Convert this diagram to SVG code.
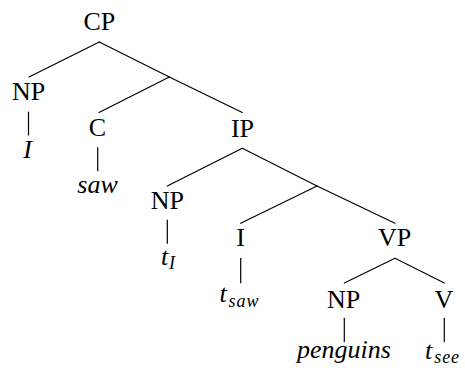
<svg xmlns="http://www.w3.org/2000/svg" width="465" height="372" viewBox="0 0 465 372">
<defs>
<style>
  .t { font-family: "Liberation Serif", "Noto Serif", "Nimbus Roman", "Nimbus Roman No9 L", "TeX Gyre Termes", "FreeSerif", "Times", "Tinos", "DejaVu Serif", "Georgia", serif; font-size: 26px; fill: #000; text-anchor: middle; }
  .it { font-style: italic; }
  .sub { font-size: 18px; font-style: italic; }
  .edge { stroke: #000; stroke-width: 1.2; fill: none; stroke-linecap: round; }
</style>
</defs>
<rect width="465" height="372" fill="#fff"/>
<g id="connectors">
  <line class="edge" x1="99.3" y1="42" x2="29" y2="77"/>
  <line class="edge" x1="99.3" y1="42" x2="169.3" y2="77"/>
  <line class="edge" x1="169.3" y1="77" x2="99" y2="112.5"/>
  <line class="edge" x1="169.3" y1="77" x2="242.3" y2="112.5"/>
  <line class="edge" x1="242.3" y1="148.3" x2="167.3" y2="186"/>
  <line class="edge" x1="242.3" y1="148.3" x2="317" y2="186"/>
  <line class="edge" x1="317" y1="186" x2="240.7" y2="223.3"/>
  <line class="edge" x1="317" y1="186" x2="395" y2="223.3"/>
  <line class="edge" x1="395" y1="258.3" x2="344.3" y2="283"/>
  <line class="edge" x1="395" y1="258.3" x2="444.3" y2="283"/>
  <line class="edge" x1="28.5" y1="112" x2="28.5" y2="135"/>
  <line class="edge" x1="97.7" y1="147.7" x2="97.7" y2="170.7"/>
  <line class="edge" x1="167.3" y1="220" x2="167.3" y2="243.3"/>
  <line class="edge" x1="240.7" y1="258.3" x2="240.7" y2="282.7"/>
  <line class="edge" x1="344.3" y1="318.3" x2="344.3" y2="341.7"/>
  <line class="edge" x1="444.3" y1="318.3" x2="444.3" y2="341.7"/>
</g>
<g id="cp"><text class="t" x="99.3" y="30">CP</text></g>
<g id="np1"><text class="t" x="28.5" y="100">NP</text></g>
<g id="leaf-i"><text class="t it" x="27.5" y="158">I</text></g>
<g id="c"><text class="t" x="97.5" y="135.5">C</text></g>
<g id="leaf-saw"><text class="t it" x="97.5" y="193">saw</text></g>
<g id="ip"><text class="t" x="242.5" y="136.5">IP</text></g>
<g id="np2"><text class="t" x="167.3" y="209">NP</text></g>
<g id="leaf-ti"><text class="t it" x="168" y="265">t<tspan class="sub" dx="1" dy="4">I</tspan></text></g>
<g id="i"><text class="t" x="240.5" y="246">I</text></g>
<g id="leaf-tsaw"><text class="t it" x="239.5" y="302">t<tspan class="sub" dx="2" dy="5" letter-spacing="1">saw</tspan></text></g>
<g id="vp"><text class="t" x="394.5" y="246">VP</text></g>
<g id="np3"><text class="t" x="343.5" y="307.5">NP</text></g>
<g id="leaf-penguins"><text class="t it" x="344" y="358">penguins</text></g>
<g id="v"><text class="t" x="444" y="307.5">V</text></g>
<g id="leaf-tsee"><text class="t it" x="442.5" y="358.5">t<tspan class="sub" dx="2" dy="4" letter-spacing="1">see</tspan></text></g>
</svg>
